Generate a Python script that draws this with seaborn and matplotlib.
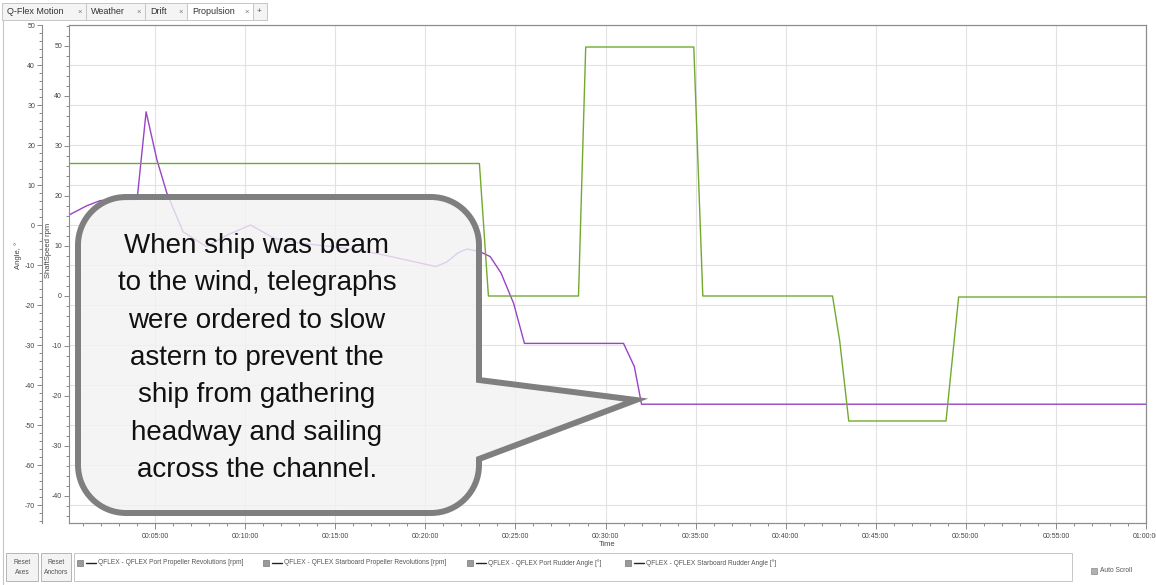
import pandas as pd
import seaborn as sns
import matplotlib.pyplot as plt
import matplotlib.transforms as mtransforms
from matplotlib.path import Path
from matplotlib.patches import PathPatch, Rectangle
from matplotlib.lines import Line2D
from matplotlib.ticker import MultipleLocator, FuncFormatter

# propeller revolutions (green trace), time in minutes, rpm
prop_time = [0.22, 23.0, 23.5, 28.5, 28.9, 34.9, 35.4, 42.6, 43.0, 43.5, 48.9, 49.6, 60.0]
prop_rpm = [26.5, 26.5, 0.0, 0.0, 49.8, 49.8, 0.0, 0.0, -9.0, -25.0, -25.0, -0.2, -0.2]

# rudder angle (purple trace), time in minutes, degrees
rudder_time = [0.22, 1.2, 1.95, 2.7, 4.0, 4.5, 5.1, 5.65, 6.55, 7.85, 9.0, 10.3, 11.6,
               13.0, 15.0, 16.5, 17.5, 19.0, 20.6, 21.2, 21.8, 22.3, 23.0, 23.6, 24.2,
               24.9, 25.5, 31.0, 31.6, 32.0, 60.0]
rudder_angle = [2.5, 4.8, 6.1, 6.3, 6.4, 28.3, 16.3, 8.0, -1.7, -5.4, -2.5, 0.0, -3.3,
                -4.5, -5.5, -6.5, -7.3, -8.8, -10.4, -9.2, -7.0, -6.0, -6.6, -7.9, -12.0,
                -19.6, -29.6, -29.6, -35.4, -44.8, -44.8]

tab_names = ["Q-Flex Motion", "Weather", "Drift", "Propulsion"]
legend_names = ["QFLEX - QFLEX Port Propeller Revolutions [rpm]",
                "QFLEX - QFLEX Starboard Propeller Revolutions [rpm]",
                "QFLEX - QFLEX Port Rudder Angle [°]",
                "QFLEX - QFLEX Starboard Rudder Angle [°]"]
callout = ("When ship was beam\nto the wind, telegraphs\nwere ordered to slow\n"
           "astern to prevent the\nship from gathering\nheadway and sailing\n"
           "across the channel.")

W, H = 1156, 585
GREEN = "#72a92e"
PURPLE = "#9843c8"
UI_TEXT = "#555555"

sns.set_theme(style="white")
plt.rcParams["font.family"] = ["Liberation Sans", "DejaVu Sans"]
plt.rcParams["axes.unicode_minus"] = False

fig = plt.figure(figsize=(W / 100, H / 100), dpi=100)
fig.patch.set_facecolor("white")

# angle axis carries the grid, rpm axis is twinned on top
ax = fig.add_axes([69 / W, 1 - 523 / H, (1146 - 69) / W, (523 - 25) / H])
ax2 = ax.twinx()

rudder_df = pd.DataFrame({"minutes": rudder_time, "angle": rudder_angle})
prop_df = pd.DataFrame({"minutes": prop_time, "rpm": prop_rpm})

sns.lineplot(data=rudder_df, x="minutes", y="angle", ax=ax, color=PURPLE,
             lw=1.0, sort=False, estimator=None)
sns.lineplot(data=prop_df, x="minutes", y="rpm", ax=ax2, color=GREEN,
             lw=1.0, sort=False, estimator=None)

ax.set_xlim(0.22, 60)
ax.set_ylim(-74.5, 50)
ax2.set_ylim(-45.4, 54.2)

ax.xaxis.set_major_locator(MultipleLocator(5))
ax.xaxis.set_minor_locator(MultipleLocator(1))
ax.xaxis.set_major_formatter(
    FuncFormatter(lambda m, _: f"{int(m // 60):02d}:{int(round(m % 60)):02d}:00"))
for a in (ax, ax2):
    a.yaxis.set_major_locator(MultipleLocator(10))
    a.yaxis.set_minor_locator(MultipleLocator(2))
    a.yaxis.set_major_formatter(FuncFormatter(lambda v, _: f"{int(round(v))}"))
    for s in a.spines.values():
        s.set_color("#8c8c8c")
        s.set_linewidth(0.8)

# outer angle axis sits 27 px left of the frame (offset is in points)
ax.spines["left"].set_position(("outward", 27 * 72 / 100))
ax2.yaxis.tick_left()
ax2.yaxis.set_label_position("left")

ax.tick_params(axis="x", which="both", bottom=True, direction="out", color="#777777",
               labelcolor="#444444", labelsize=5, pad=3)
ax.tick_params(axis="x", which="major", length=4, width=0.6)
ax.tick_params(axis="x", which="minor", length=2.5, width=0.6)
for a in (ax, ax2):
    a.tick_params(axis="y", which="both", left=True, right=False, direction="out",
                  color="#777777", labelcolor="#444444", labelsize=5, pad=1.5)
    a.tick_params(axis="y", which="major", length=3.5, width=0.6)
    a.tick_params(axis="y", which="minor", length=2, width=0.6)

ax.grid(True, which="major", axis="both", color="#e2e2e2", lw=0.8)

ax.set_ylabel("Angle, °", fontsize=5.5, color="#444444")
ax.yaxis.set_label_coords((21.5 - 69) / 1077, (523 - 255) / 498)
ax2.set_ylabel("ShaftSpeed rpm", fontsize=5.5, color="#444444")
ax2.yaxis.set_label_coords((51.5 - 69) / 1077, (523 - 250) / 498)
ax.set_xlabel("Time", fontsize=5.5, color="#444444")
ax.xaxis.set_label_coords((607 - 69) / 1077, (523 - 541) / 498)

# helpers working in screen pixels (origin top-left)
px = mtransforms.Affine2D().scale(1 / W, -1 / H).translate(0, 1) + fig.transFigure


def box(x, y, w, h, fc, ec="#c6c6c6", lw=0.7, z=5):
    fig.add_artist(Rectangle((x, y), w, h, transform=px, facecolor=fc,
                             edgecolor=ec, lw=lw, zorder=z))


def label(x, y, s, size=5, color=UI_TEXT, **kw):
    fig.text(x / W, 1 - y / H, s, fontsize=size, color=color, va="center",
             zorder=8, **kw)


# tab strip
tab_edges = [2, 86, 145, 187, 253]
for i, name in enumerate(tab_names):
    active = name == "Propulsion"
    box(tab_edges[i], 3, tab_edges[i + 1] - tab_edges[i], 17,
        "white" if active else "#f4f4f4")
    label(tab_edges[i] + 5, 12, name, size=6.5, color="#333333")
    label(tab_edges[i + 1] - 9, 12, "×", size=5.5, color="#777777")
box(253, 3, 14, 17, "#f4f4f4")
label(257, 12, "+", size=6, color="#555555")
fig.add_artist(Line2D([3, 3], [20, 585], transform=px, color="#c6c6c6", lw=0.8))

# bottom bar: buttons, legend strip, auto scroll
box(6, 553, 32, 28, "#f3f3f3", ec="#b5b5b5")
label(22, 562, "Reset", size=4.8, ha="center")
label(22, 572, "Axes", size=4.8, ha="center")
box(41, 553, 30, 28, "#f3f3f3", ec="#b5b5b5")
label(56, 562, "Reset", size=4.8, ha="center")
label(56, 572, "Anchors", size=4.8, ha="center")
box(74, 553, 998, 28, "white", ec="#c6c6c6")
for x0, name in zip([77, 263, 467, 625], legend_names):
    box(x0, 560, 6, 6, "#9a9a9a", ec="#7a7a7a", lw=0.5)
    fig.add_artist(Line2D([x0 + 9, x0 + 19], [563, 563], transform=px,
                          color="#222222", lw=1.0, zorder=8))
    label(x0 + 21, 563, name, size=4.8)
box(1091, 568, 6, 6, "#b0b0b0", ec="#8a8a8a", lw=0.5)
label(1100, 571, "Auto Scroll", size=4.8)

# callout bubble
L, R, T, B, r = 78, 479, 197, 513, 48
k = 0.5523 * r
verts = [
    (L + r, T), (R - r, T),
    (R - r + k, T), (R, T + r - k), (R, T + r),
    (R, 380), (636, 400), (R, 459), (R, B - r),
    (R, B - r + k), (R - r + k, B), (R - r, B),
    (L + r, B),
    (L + r - k, B), (L, B - r + k), (L, B - r),
    (L, T + r),
    (L, T + r - k), (L + r - k, T), (L + r, T),
    (L + r, T),
]
codes = ([Path.MOVETO, Path.LINETO] + [Path.CURVE4] * 3 +
         [Path.LINETO] * 4 + [Path.CURVE4] * 3 + [Path.LINETO] +
         [Path.CURVE4] * 3 + [Path.LINETO] + [Path.CURVE4] * 3 + [Path.CLOSEPOLY])
fig.add_artist(PathPatch(Path(verts, codes), transform=px,
                         facecolor=(0.95, 0.95, 0.95, 0.8), edgecolor="#7f7f7f",
                         lw=4.3, joinstyle="miter", zorder=10))
fig.text(257 / W, 1 - 358 / H, callout, ha="center", va="center", fontsize=20,
         linespacing=1.57, color="#111111", family="Liberation Sans", zorder=11)

fig.savefig("out.png", dpi=100, facecolor="white")
